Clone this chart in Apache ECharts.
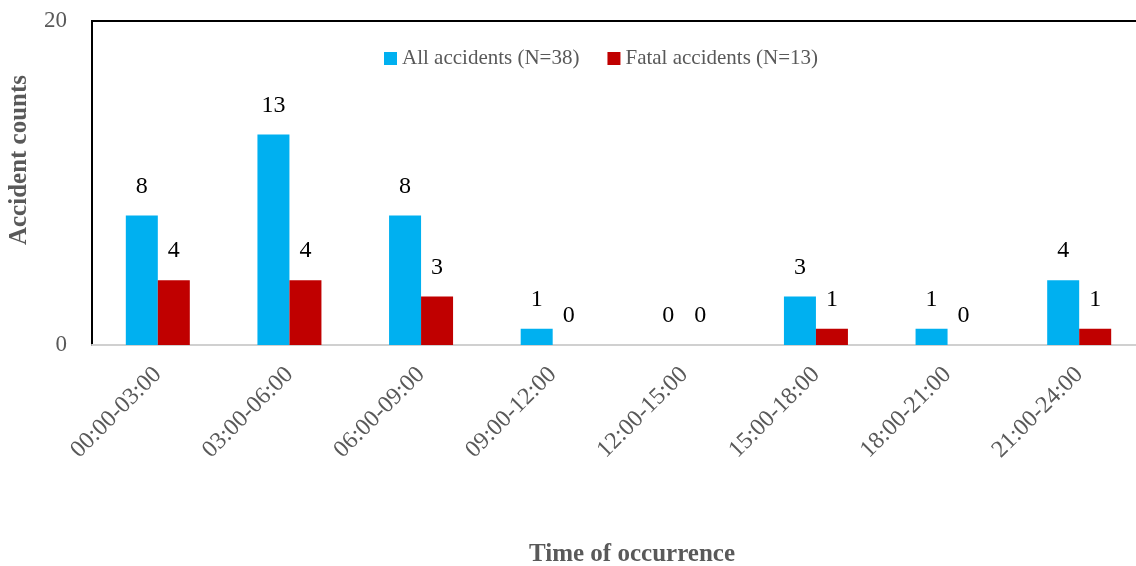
<!DOCTYPE html>
<html>
<head>
<meta charset="utf-8">
<script src="https://cdn.jsdelivr.net/npm/echarts@6/dist/echarts.min.js"></script>
<style>
  html, body { margin: 0; padding: 0; background: #fff; overflow: hidden; }
  /* the plot area runs slightly past the right edge of the window */
  #chart { width: 1145px; height: 566px; }
</style>
</head>
<body>
<div id="chart"></div>
<script>
// Accident counts by three-hour time window
const categories = ['00:00-03:00', '03:00-06:00', '06:00-09:00', '09:00-12:00',
                    '12:00-15:00', '15:00-18:00', '18:00-21:00', '21:00-24:00'];
const allAccidents = [8, 13, 8, 1, 0, 3, 1, 4];
const fatalAccidents = [4, 4, 3, 0, 0, 1, 0, 1];
const seriesNames = ['All accidents (N=38)', 'Fatal accidents (N=13)'];
const yTicks = [0, 20];

const FONT = '"Liberation Serif", "DejaVu Serif", serif';
const GREY = '#595959';

const chart = echarts.init(document.getElementById('chart'), null, { renderer: 'canvas' });

const labelStyle = {
  show: true,
  position: 'top',
  distance: 17,
  color: '#000',
  fontFamily: FONT,
  fontSize: 24
};

chart.setOption({
  animation: false,
  textStyle: { fontFamily: FONT },
  legend: {
    top: 43,
    left: 379,
    itemWidth: 13,
    itemHeight: 13,
    itemGap: 28,
    icon: 'rect',
    textStyle: { color: GREY, fontFamily: FONT, fontSize: 21 },
    data: seriesNames
  },
  grid: { left: 92, right: 0, top: 21, bottom: 221, containLabel: false },
  xAxis: {
    type: 'category',
    data: categories,
    axisLine: { show: true, lineStyle: { color: '#d0d0d0', width: 2 } },
    axisTick: { show: false },
    axisLabel: {
      rotate: 45,
      interval: 0,
      margin: 26,
      color: GREY,
      fontFamily: FONT,
      fontSize: 24
    }
  },
  yAxis: {
    type: 'value',
    min: yTicks[0],
    max: yTicks[yTicks.length - 1],
    interval: yTicks[1] - yTicks[0],
    axisLine: { show: true, lineStyle: { color: '#000', width: 2 } },
    axisTick: { show: false },
    splitLine: { show: false },
    axisLabel: {
      margin: 25,
      color: GREY,
      fontFamily: FONT,
      fontSize: 23
    }
  },
  graphic: [
    {
      type: 'line',
      shape: { x1: 91, y1: 21, x2: 1145, y2: 21 },
      style: { stroke: '#000', lineWidth: 2 }
    },
    {
      type: 'text',
      x: 20,
      y: 160,
      rotation: Math.PI / 2,
      style: {
        text: 'Accident counts',
        fill: GREY,
        font: 'bold 25px ' + FONT,
        textAlign: 'center',
        textVerticalAlign: 'middle'
      }
    },
    {
      type: 'text',
      x: 632,
      y: 555,
      style: {
        text: 'Time of occurrence',
        fill: GREY,
        font: 'bold 25px ' + FONT,
        textAlign: 'center',
        textVerticalAlign: 'middle'
      }
    }
  ],
  series: [
    {
      name: seriesNames[0],
      type: 'bar',
      data: allAccidents,
      barWidth: 32,
      barGap: '0%',
      itemStyle: { color: '#00B0F0' },
      label: labelStyle
    },
    {
      name: seriesNames[1],
      type: 'bar',
      data: fatalAccidents,
      barWidth: 32,
      itemStyle: { color: '#C00000' },
      label: labelStyle
    }
  ]
});
</script>
</body>
</html>
